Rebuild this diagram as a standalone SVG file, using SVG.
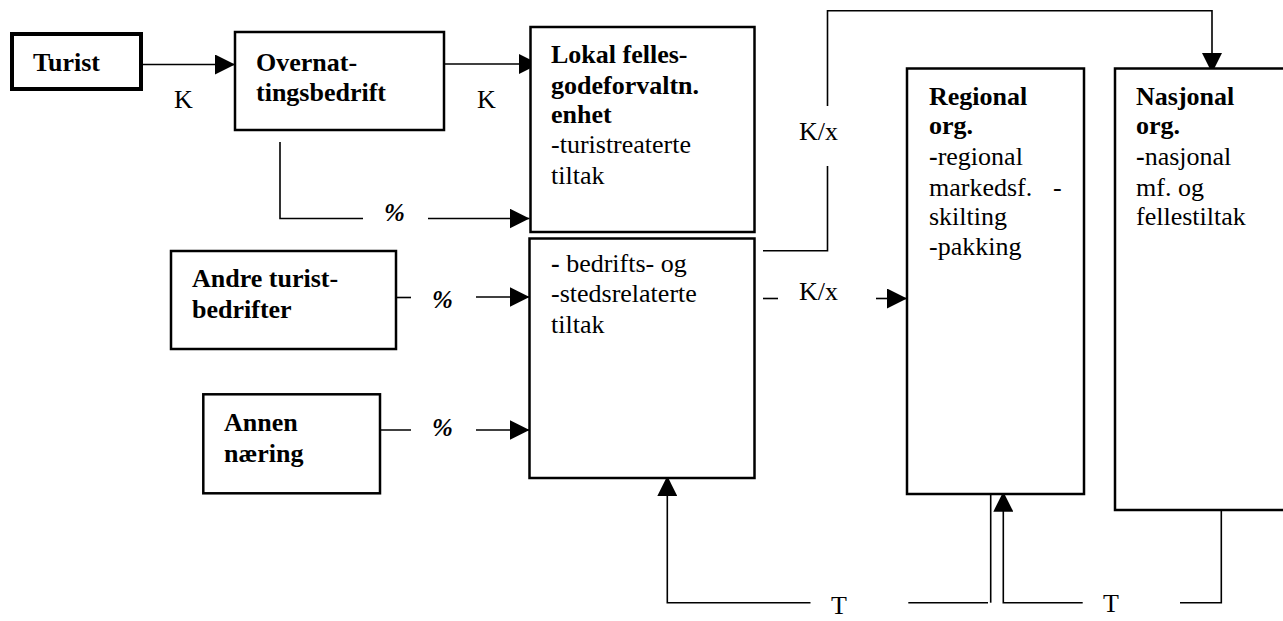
<svg xmlns="http://www.w3.org/2000/svg" width="1283" height="621" viewBox="0 0 1283 621">
<style>
text{font-family:"Liberation Serif","Times New Roman",serif;font-size:26px;fill:#000}
.b{font-weight:bold}
.box{fill:#fff;stroke:#000;stroke-width:2.5}
.thick{stroke-width:4}
.c{fill:none;stroke:#000;stroke-width:1.6}
.pct{font-weight:bold;font-style:italic;font-size:25px}
</style>
<defs>
<marker id="ah" viewBox="0 0 20 20" refX="20" refY="10" markerWidth="20" markerHeight="20" markerUnits="userSpaceOnUse" orient="auto">
<path d="M0,0 L20,10 L0,20 Z" fill="#000"/>
</marker>
</defs>
<rect width="1283" height="621" fill="#fff"/>

<g id="connectors">
<path class="c" d="M141,64.5 H235" marker-end="url(#ah)"/>
<path class="c" d="M444,64 H539" marker-end="url(#ah)"/>
<path class="c" d="M280,142 V218.5 H363"/>
<path class="c" d="M428,218.5 H529.5" marker-end="url(#ah)"/>
<path class="c" d="M396,297.5 H411"/>
<path class="c" d="M476,297 H529.5" marker-end="url(#ah)"/>
<path class="c" d="M376,430 H411"/>
<path class="c" d="M476,430 H529.5" marker-end="url(#ah)"/>
<path class="c" d="M763,250.7 H827.5 V166"/>
<path class="c" d="M827.5,106 V10.7 H1212 V73" marker-end="url(#ah)"/>
<path class="c" d="M763,298.5 H778"/>
<path class="c" d="M876,298.5 H907" marker-end="url(#ah)"/>
<path class="c" d="M810.5,602.7 H667.3 V476" marker-end="url(#ah)"/>
<path class="c" d="M908.3,602.7 H988"/>
<path class="c" d="M990.7,486.7 V602.7"/>
<path class="c" d="M1082.7,602.7 H1003.3 V491.7" marker-end="url(#ah)"/>
<path class="c" d="M1180,602.7 H1221.3 V506.7"/>
<text x="174" y="108">K</text>
<text x="477" y="108">K</text>
<text x="799" y="140">K/x</text>
<text x="799" y="300">K/x</text>
<text class="pct" x="384" y="221">%</text>
<text class="pct" x="432" y="308">%</text>
<text class="pct" x="432" y="436">%</text>
<text x="831" y="614">T</text>
<text x="1103" y="612">T</text>
</g>

<g id="turist">
<rect class="box thick" x="12" y="34" width="129" height="55"/>
<text class="b" x="33" y="71">Turist</text>
</g>

<g id="overnatting">
<rect class="box" x="235" y="32" width="209" height="98"/>
<text class="b" x="256" y="71">Overnat-</text>
<text class="b" x="256" y="101">tingsbedrift</text>
</g>

<g id="lokal">
<rect class="box" x="530.5" y="27" width="224" height="205"/>
<text class="b" x="551" y="63">Lokal felles-</text>
<text class="b" x="551" y="93.5">godeforvaltn.</text>
<text class="b" x="551" y="123">enhet</text>
<text x="551" y="153">-turistreaterte</text>
<text x="551" y="184">tiltak</text>
</g>

<g id="bedrifts">
<rect class="box" x="529.5" y="238.5" width="225" height="239.5"/>
<text x="551" y="272"><tspan class="b">-</tspan> bedrifts- og</text>
<text x="551" y="302">-stedsrelaterte</text>
<text x="551" y="333">tiltak</text>
</g>

<g id="andre">
<rect class="box" x="171" y="251" width="225" height="98"/>
<text class="b" x="192" y="287">Andre turist-</text>
<text class="b" x="192" y="318">bedrifter</text>
</g>

<g id="annen">
<rect class="box" x="203.3" y="394.3" width="176.7" height="99"/>
<text class="b" x="224" y="431">Annen</text>
<text class="b" x="224" y="462">næring</text>
</g>

<g id="regional">
<rect class="box" x="907" y="68.5" width="177" height="425.5"/>
<text class="b" x="929" y="105">Regional</text>
<text class="b" x="929" y="134">org.</text>
<text x="929" y="165"><tspan class="b">-</tspan>regional</text>
<text x="929" y="196">markedsf.</text>
<text x="1053" y="196">-</text>
<text x="929" y="225">skilting</text>
<text x="929" y="255">-pakking</text>
</g>

<g id="nasjonal">
<rect class="box" x="1115" y="68.5" width="180" height="441.5"/>
<text class="b" x="1136" y="105">Nasjonal</text>
<text class="b" x="1136" y="134">org.</text>
<text x="1136" y="165"><tspan class="b">-</tspan>nasjonal</text>
<text x="1136" y="196">mf. og</text>
<text x="1136" y="225">fellestiltak</text>
</g>
</svg>
